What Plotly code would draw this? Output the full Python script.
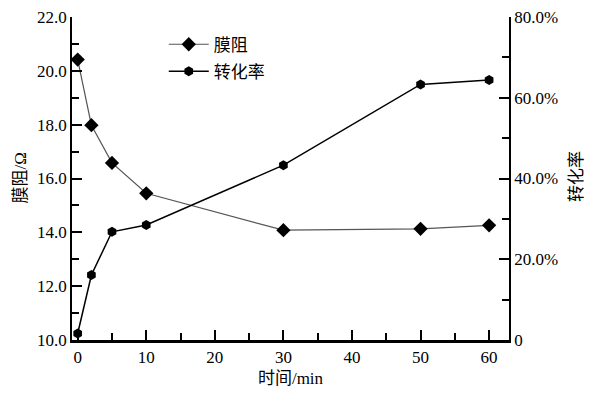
import plotly.graph_objects as go

time_min = [0, 2, 5, 10, 30, 50, 60]
membrane_resistance = [20.42, 17.98, 16.58, 15.45, 14.08, 14.13, 14.26]
conversion_pct = [1.6, 16.1, 26.8, 28.5, 43.3, 63.3, 64.4]

left_tickvals = [10, 12, 14, 16, 18, 20, 22]
left_ticktext = ["10.0", "12.0", "14.0", "16.0", "18.0", "20.0", "22.0"]
right_tickvals = [0, 20, 40, 60, 80]
right_ticktext = ["0", "20.0%", "40.0%", "60.0%", "80.0%"]
x_tickvals = [0, 10, 20, 30, 40, 50, 60]

FONT = "Liberation Serif, Times New Roman, Noto Sans CJK SC, serif"

W, H = 589, 396
ML, MR, MT, MB = 72, 80, 17, 56
PW = W - ML - MR
PH = H - MT - MB

fig = go.Figure()
fig.add_trace(go.Scatter(
    x=time_min, y=membrane_resistance, name="膜阻", mode="lines+markers",
    legendgroup="a",
    line=dict(color="#555555", width=1.2),
    marker=dict(symbol="diamond", size=11, color="black"),
    yaxis="y",
))
fig.add_trace(go.Scatter(
    x=time_min, y=conversion_pct, name="转化率", mode="lines+markers",
    legendgroup="b",
    line=dict(color="black", width=1.5),
    marker=dict(symbol="hexagon", size=10, color="black"),
    yaxis="y2",
))

axis_common = dict(
    showgrid=False, zeroline=False, showline=True, linecolor="black",
    ticks="inside", ticklen=10, tickwidth=1.5, tickcolor="black",
    tickfont=dict(family=FONT, size=17, color="black"),
)

fig.update_layout(
    width=W, height=H,
    margin=dict(l=ML, r=MR, t=MT, b=MB, autoexpand=False),
    paper_bgcolor="white", plot_bgcolor="white",
    font=dict(family=FONT, size=17, color="black"),
    showlegend=True,
    legend=dict(x=0.21, y=0.97, xanchor="left", yanchor="top",
                bgcolor="rgba(0,0,0,0)", font=dict(family=FONT, size=17),
                itemwidth=40, tracegroupgap=2),
    xaxis=dict(
        range=[-0.83, 62.9], tickvals=x_tickvals, linewidth=2.5,
        minor=dict(ticks="inside", ticklen=7, dtick=5, tick0=0, tickcolor="black", tickwidth=1.5),
        title=dict(text="时间/min", font=dict(family=FONT, size=17), standoff=6),
        automargin=False,
        **axis_common,
    ),
    yaxis=dict(
        range=[10, 22], tickvals=left_tickvals, ticktext=left_ticktext, linewidth=1.5,
        minor=dict(ticks="inside", ticklen=7, dtick=1, tick0=10, tickcolor="black", tickwidth=1.5),
        automargin=False,
        **axis_common,
    ),
    yaxis2=dict(
        range=[0, 80], tickvals=right_tickvals, ticktext=right_ticktext, linewidth=1.5,
        overlaying="y", side="right", anchor="x",
        minor=dict(ticks="inside", ticklen=7, dtick=10, tick0=0, tickcolor="black", tickwidth=1.5),
        automargin=False,
        **axis_common,
    ),
    annotations=[
        dict(text="膜阻/Ω", xref="paper", yref="paper", x=(20 - ML) / PW, y=0.5,
             xanchor="center", yanchor="middle", textangle=-90, showarrow=False,
             font=dict(family=FONT, size=17)),
        dict(text="转化率", xref="paper", yref="paper", x=(577 - ML) / PW, y=0.505,
             xanchor="center", yanchor="middle", textangle=-90, showarrow=False,
             font=dict(family=FONT, size=17)),
    ],
)

fig.write_html("out.html",
               config={"displayModeBar": False},
               post_script="document.body.style.margin='0';document.body.style.overflow='hidden';")
